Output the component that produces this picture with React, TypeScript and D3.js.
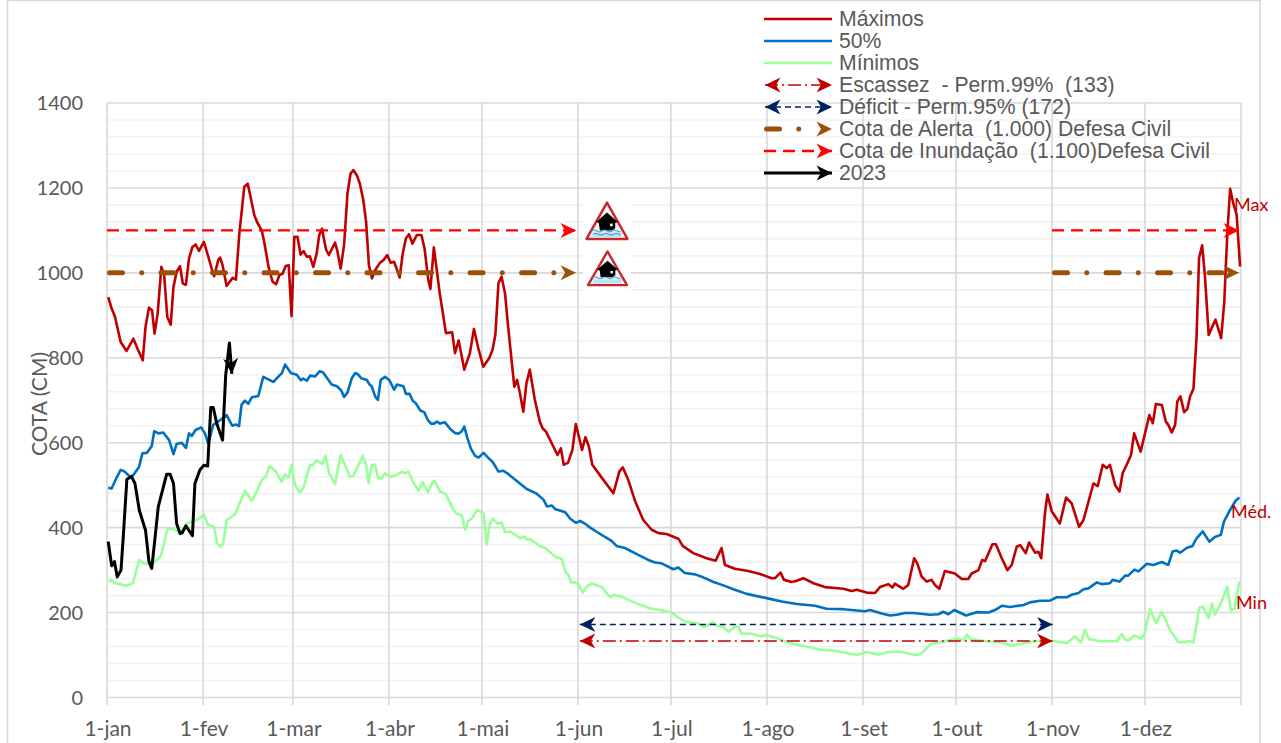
import React from "react";
import * as d3 from "d3";

type P = [number, number];

const monthLabels = ["1-jan","1-fev","1-mar","1-abr","1-mai","1-jun","1-jul","1-ago","1-set","1-out","1-nov","1-dez"];
const monthDays = [0,31,60,91,121,152,182,213,244,274,305,335];
const lastDay = 366;
const yTicks = [0,200,400,600,800,1000,1200,1400];
const yMinor = [40,80,120,160,240,280,320,360,440,480,520,560,640,680,720,760,840,880,920,960,1040,1080,1120,1160,1240,1280,1320,1360];

const maximos: P[] = [[0.4,943],[1.5,916],[2.6,896],[4.4,837],[6.3,816],[8.5,845],[9.8,822],[11.5,794],[12.4,873],[13.5,918],[14.5,912],[15.3,857],[16.3,904],[17.5,1014],[18.4,995],[19.4,896],[20.5,878],[21.4,967],[22.4,1002],[23.5,1016],[24.4,975],[25.4,972],[26.4,1034],[27.5,1061],[28.5,1067],[29.6,1052],[31.2,1073],[32.6,1038],[34,1002],[34.5,992],[35.8,1030],[36.4,1036],[37.2,1018],[38.5,969],[40.4,988],[41.5,984],[42.6,1093],[44.2,1203],[45.3,1210],[46.2,1179],[47.4,1136],[48.4,1118],[49.8,1100],[50.5,1077],[52,1014],[53.3,979],[54.4,973],[55.5,995],[56.5,998],[57.5,1016],[58.5,1018],[59.4,898],[60.3,1085],[61.3,1085],[62.3,1043],[63.3,1051],[64.3,1038],[65.3,1039],[66.4,1014],[67.5,1046],[68.3,1089],[69.2,1104],[70.5,1055],[71.4,1042],[73.4,1071],[74.1,1053],[75.2,1010],[76.3,1065],[77.4,1187],[78.4,1234],[79.3,1242],[80.4,1230],[81.4,1210],[82.5,1171],[83.4,1120],[84.3,1018],[85.3,987],[86.3,1006],[87.9,1024],[89,1030],[90.2,1042],[91.3,1024],[92.4,1026],[93.2,1010],[94.2,989],[95.2,1046],[96.2,1081],[97.2,1091],[98.3,1069],[99.7,1089],[101.2,1089],[102.2,1058],[103.4,984],[104.1,962],[105.2,1060],[107.1,952],[109.1,858],[111.1,860],[112,811],[113.2,841],[115,772],[116.8,811],[118.1,868],[119.5,823],[121.1,779],[123,799],[124.1,819],[125,854],[126,976],[127,991],[128.1,952],[129.1,874],[131.1,732],[132,748],[132.9,717],[134,673],[135,740],[136.1,772],[137.7,701],[139.3,650],[140.2,634],[141.3,626],[145,571],[146.1,587],[147,548],[148.4,553],[149.8,583],[150.9,644],[152.9,583],[154,613],[155.1,591],[156.2,548],[159.4,516],[163,481],[164.9,532],[166,542],[167.8,512],[170,462],[172.6,418],[175.3,395],[177.5,387],[180.1,385],[183.9,374],[185.3,357],[188.7,340],[193,328],[195.9,322],[197.8,352],[198.9,312],[202.1,303],[206.4,298],[210.2,291],[213.9,281],[215,281],[216.8,294],[217.9,277],[220.4,272],[222,275],[224.1,281],[227.4,269],[231.1,260],[237,256],[239.7,251],[241.3,254],[244.5,247],[247.2,246],[248.8,260],[251.5,267],[252.8,259],[253.6,268],[256.3,256],[257.9,265],[259.8,328],[260.8,316],[262.2,285],[263.8,273],[265.4,277],[266.5,265],[267.9,256],[269.7,298],[272.9,292],[275.1,279],[277.2,279],[278.3,292],[280.5,300],[281.7,324],[282.6,321],[285,361],[286.1,361],[288,328],[289.8,300],[291.2,312],[292.8,355],[293.9,359],[295.7,340],[296.8,365],[298.7,341],[299.8,343],[300.7,328],[301.9,434],[302.7,478],[304.1,438],[306.7,410],[308.7,471],[310.5,457],[312.9,402],[314.3,418],[317.5,504],[318.9,498],[320.5,548],[321.8,540],[322.8,548],[324.5,500],[325.9,485],[326.9,528],[328.2,548],[329.6,571],[330.6,622],[332.7,579],[335.5,665],[336.6,646],[337.6,691],[339.5,689],[340.8,650],[341.6,642],[342.7,624],[343.8,642],[344.5,697],[345.5,709],[346.7,672],[347.7,679],[348.6,709],[349.7,727],[350.7,850],[351.5,1035],[352.5,1065],[353.4,992],[354.6,854],[356.8,890],[358.6,846],[359.6,929],[360.6,1094],[361.5,1198],[362.5,1164],[363.6,1137],[364.7,1015]];

const mediana: P[] = [[0.4,494],[1.5,492],[3.1,518],[4.4,536],[5.5,533],[7.4,520],[8.5,524],[10.3,543],[11.4,575],[12.8,576],[14.4,592],[15.2,627],[16.5,622],[18.1,624],[20,606],[21.4,573],[22.4,597],[24,600],[25.4,588],[26.4,622],[27.3,616],[28.5,630],[30.3,636],[31.5,622],[32.6,598],[34.2,642],[36.4,653],[38.5,665],[40.3,640],[41.4,643],[42.5,639],[43.3,689],[44.4,699],[45.5,692],[46.6,707],[48.7,710],[50.3,755],[51.9,749],[53.6,743],[55.2,756],[56.3,764],[57.3,784],[59.2,764],[61.1,760],[62.4,747],[63.2,751],[64.3,746],[65.4,758],[67,756],[68.4,768],[69.5,766],[72.3,737],[74,733],[75.4,723],[76.3,708],[77.4,718],[78.8,752],[79.9,764],[80.6,762],[82,751],[83.6,748],[84.5,737],[85.2,733],[86.3,709],[87.2,701],[88.1,748],[89.5,755],[90.9,747],[92.4,725],[93.3,737],[95.4,733],[96.2,715],[97.4,715],[98.4,699],[99.4,693],[100.8,676],[102.1,672],[103.3,653],[104.3,645],[105.3,645],[106.2,650],[107.2,645],[108.8,648],[110.4,633],[112,623],[113.1,621],[114.2,627],[115,638],[116,611],[117.2,585],[118.5,569],[119.6,565],[121.2,576],[122.5,566],[124.2,554],[126,532],[127.6,534],[129.2,526],[132.4,507],[135.1,491],[138.3,480],[140.5,466],[141.6,450],[143.2,452],[144.2,444],[147.5,436],[149.1,421],[151,411],[152.3,416],[153.9,409],[155.5,400],[160.3,378],[162.4,369],[164,357],[166.7,352],[171,336],[174.2,324],[176.4,318],[178.5,316],[182.3,302],[183.9,306],[186,293],[189.3,290],[191.9,283],[195.2,272],[198.4,264],[201.6,255],[205.9,244],[212.3,234],[217.2,226],[222,220],[227.9,216],[231.6,209],[237,208],[244,203],[245.6,206],[249.4,198],[252,193],[254.2,195],[256.9,199],[259.5,199],[264.9,195],[267.6,196],[269.2,202],[270.8,196],[272.7,206],[276.5,193],[279.9,201],[283.7,200],[285.8,206],[288,216],[290.7,213],[295,218],[297.1,224],[300.3,228],[303.5,228],[305.7,236],[308.9,236],[310.5,242],[312.7,246],[314.3,255],[315.9,257],[318.6,271],[320.2,267],[322.8,269],[323.7,277],[325.9,273],[327.7,287],[328.7,287],[330.7,301],[332,297],[334.7,315],[336.8,312],[339.5,319],[341.6,312],[343,344],[344.3,346],[345.4,341],[347.5,352],[349.4,357],[350.7,375],[352.7,391],[354.8,367],[356.6,378],[358.5,383],[359.5,414],[361.5,442],[363.3,464],[364.5,471]];

const minimos: P[] = [[0.4,272],[1.5,277],[2.6,269],[4.2,267],[6.1,263],[8.3,269],[10.4,324],[11.7,316],[14.4,314],[17.3,332],[19.5,398],[21.4,397],[23.5,389],[25.6,410],[28.9,418],[31.2,430],[32.6,406],[34.4,402],[35.5,362],[36.6,355],[37.4,363],[38.5,418],[41.2,431],[44.4,487],[46.6,463],[48.2,485],[49.8,512],[51.2,521],[52.3,545],[54.4,532],[56.2,508],[57.3,526],[58.4,518],[59.4,548],[60.5,500],[62.1,483],[63.2,493],[65.3,548],[66.2,546],[67.3,559],[69.3,550],[70.4,569],[71.5,528],[73.4,503],[75.2,571],[78.2,520],[79.3,522],[82.3,569],[83.4,548],[84.2,506],[85.2,548],[86.3,548],[87.3,516],[88.4,516],[89.5,528],[91.1,519],[93.2,524],[94.9,532],[95.9,528],[97,532],[98.4,509],[100.3,487],[101.5,507],[103.3,483],[104.5,503],[105.4,511],[107.2,485],[109,479],[111.5,442],[112.6,433],[114.2,429],[115.3,395],[116.3,415],[117.7,424],[119,442],[121.2,434],[122.2,361],[123.3,411],[124.2,421],[125.8,409],[127.1,412],[128.1,389],[129.8,391],[133,375],[134.3,379],[135.1,372],[136.2,373],[139.4,356],[141,352],[144.2,332],[146.4,326],[147.5,297],[148.5,289],[149.4,271],[150.7,271],[151.8,266],[153.1,247],[154.4,261],[156,268],[159.2,261],[160.3,250],[162.1,236],[163,242],[165.6,238],[167.8,230],[171,220],[174.8,210],[178,206],[181.7,200],[183.9,188],[186,179],[189.8,175],[192.3,166],[195,177],[196.2,169],[198.4,167],[200,155],[202.1,167],[203.2,167],[204.1,151],[207.5,150],[210.2,144],[212.3,147],[215.5,140],[219.8,128],[224.1,122],[230,112],[234.3,110],[240.2,102],[241.8,101],[244.5,107],[248.3,101],[251.5,107],[255.8,107],[259,102],[261.1,100],[262.8,108],[265.1,126],[268.1,130],[273.5,138],[275.9,136],[276.7,148],[278,138],[281,134],[287.4,130],[291.2,122],[295,128],[299.2,133],[304.6,133],[308.9,128],[311.6,144],[313.5,130],[314.8,159],[316.1,137],[319.6,133],[322.3,133],[325,132],[326.6,149],[327.9,136],[328.7,134],[330.7,146],[332.8,139],[333.9,148],[335.7,208],[337.7,175],[339.5,201],[342.2,159],[344.8,130],[347,131],[348.4,133],[349.7,130],[351.6,212],[352.7,214],[354.6,187],[355.6,221],[356.6,195],[358.5,221],[360.6,261],[361.7,206],[362.9,209],[364.5,273]];

const ano2023: P[] = [[0.4,367],[1.5,310],[2.4,320],[3.3,284],[4.5,300],[5.3,386],[6.4,514],[7.9,520],[9,504],[10.4,441],[12.4,394],[13.5,320],[14.4,304],[15.5,379],[16.5,449],[19.2,526],[20.3,526],[21.4,504],[22.4,410],[23.5,386],[24.2,388],[25.4,404],[27.5,381],[28.3,504],[29.9,536],[31.2,547],[32.4,545],[33.4,683],[34.2,683],[35.3,646],[37.2,606],[38.2,759],[39.4,835],[40.2,762]];

const escassez = 133;
const deficit = 172;
const alerta = 1000;
const inundacao = 1100;
const spanLow: P = [152.6, 305.2];
const spansHigh: P[] = [[0, 151.4], [305, 365.4]];

const legendLabels = ["Máximos","50%","Mínimos","Escassez  - Perm.99%  (133)","Déficit - Perm.95% (172)","Cota de Alerta  (1.000) Defesa Civil","Cota de Inundação  (1.100)Defesa Civil","2023"];
const endLabels: [string, number, number][] = [["Max", 1234, 1160], ["Méd.", 1231, 437], ["Min", 1236, 222]];

const C = { max: "#C00000", med: "#0070C0", min: "#99FF99", esc: "#C00000", def: "#002060", ale: "#9C5009", inu: "#FF0000", blk: "#000000", major: "#D9D9D9", minor: "#F2F2F2", text: "#595959" };

const x = d3.scaleLinear().domain([0, lastDay]).range([107, 1241]);
const xSeries = d3.scaleLinear().domain([0, 365]).range([107, 1241]);
const y = d3.scaleLinear().domain([0, 1400]).range([697.5, 103]);
const line = d3.line<P>().x(d => xSeries(d[0])).y(d => y(d[1]));
const refLine = d3.line<P>().x(d => x(d[0])).y(d => y(d[1]));

const arrow = "M0,-7.5 L15.5,0 L0,7.5 L4.5,0 Z";
function Marker({ id, color, refX = 15.5 }: { id: string; color: string; refX?: number }) {
  return (
    <marker id={id} markerUnits="userSpaceOnUse" markerWidth="20" markerHeight="18" viewBox="-2 -9 20 18" refX={refX} refY="0" orient="auto-start-reverse">
      <path d={arrow} fill={color} />
    </marker>
  );
}

const BRN = "13 19.25 0.01 19.25";
const RED = "12 7";
const NAV = "6 4";
const DD = "13 4 2 4";
const brownInset = 7;

function Icon({ cx, top, w, h, waves }: { cx: number; top: number; w: number; h: number; waves: number }) {
  const sx = w / 42, sy = h / 38;
  return (
    <g transform={`translate(${cx},${top}) scale(${sx},${sy})`}>
      <path d="M0,1.5 L20,36 L-20,36 Z" fill="#F4F6F8" stroke="#C9252D" strokeWidth={2.4} strokeLinejoin="round" />
      <path d="M0,11 L10.5,20 L8,21 L8,26 L5,28 L-7,28 L-8,21 L-10.5,20 Z" fill="#000" />
      <rect x={3} y={21.5} width={2.5} height={2.5} fill="#fff" />
      <rect x={-14.5} y={30} width={29} height={4.5} fill="#BFE3F2" />
      {d3.range(waves).map(i => (
        <path key={i} d={`M${-15 + i * 1.5},${28.5 + i * 3} q2.5,-1.6 5,0 t5,0 t5,0 t5,0 t5,0 t${3 - i * 3},0`} fill="none" stroke="#4BA8D3" strokeWidth={1.2} />
      ))}
    </g>
  );
}

export default function App() {
  const ly = (i: number) => 19 + i * 22;
  const lx0 = 764, lx1 = 832;
  return (
    <svg width={1281} height={743} viewBox="0 0 1281 743" style={{ position: "absolute", left: 0, top: 0, display: "block", background: "#fff" }}>
      <defs>
        <Marker id="mEsc" color={C.esc} />
        <Marker id="mDef" color={C.def} />
        <Marker id="mAle" color={C.ale} refX={15.5 - brownInset} />
        <Marker id="mInu" color={C.inu} />
        <Marker id="mBlk" color={C.blk} />
      </defs>

      <path d="M7.5,743 V0.5 H1260 V743" fill="none" stroke={C.major} strokeWidth={1.6} />

      {yMinor.map(v => <line key={v} x1={x(0)} x2={x(lastDay)} y1={y(v)} y2={y(v)} stroke={C.minor} strokeWidth={1.6} />)}
      {yTicks.map(v => <line key={v} x1={x(0)} x2={x(lastDay)} y1={y(v)} y2={y(v)} stroke={C.major} strokeWidth={1.6} />)}
      {[...monthDays, lastDay].map(d => <line key={d} x1={x(d)} x2={x(d)} y1={y(1400)} y2={705} stroke={C.major} strokeWidth={1.6} />)}

      {yTicks.map(v => (
        <text key={v} x={83} y={y(v) + 7} textAnchor="end" fontFamily="Lato" fontSize={20} fill={C.text}>{v}</text>
      ))}
      {monthLabels.map((m, i) => (
        <text key={m} x={x(monthDays[i]) + 1} y={736} textAnchor="middle" fontFamily="Lato" fontSize={21} fill={C.text}>{m}</text>
      ))}
      <text transform="translate(47,404) rotate(-90)" textAnchor="middle" fontFamily="Lato" fontSize={21} fill={C.text}>COTA (CM)</text>

      <rect x={583} y={197} width={48} height={94} fill="#fff" />
      <Icon cx={607} top={201} w={43} h={40} waves={2} />
      <Icon cx={607.5} top={250} w={41} h={37} waves={1} />

      <path d={line(maximos)!} fill="none" stroke={C.max} strokeWidth={2.6} strokeLinejoin="round" />
      <path d={line(mediana)!} fill="none" stroke={C.med} strokeWidth={2.6} strokeLinejoin="round" />
      <path d={line(minimos)!} fill="none" stroke={C.min} strokeWidth={2.6} strokeLinejoin="round" />

      <path d={refLine([[spanLow[0], escassez], [spanLow[1], escassez]])!} fill="none" stroke={C.esc} strokeWidth={1.5} strokeDasharray={DD} markerStart="url(#mEsc)" markerEnd="url(#mEsc)" />
      <path d={refLine([[spanLow[0], deficit], [spanLow[1], deficit]])!} fill="none" stroke={C.def} strokeWidth={1.4} strokeDasharray={NAV} markerStart="url(#mDef)" markerEnd="url(#mDef)" />

      {spansHigh.map((s, i) => (
        <path key={i} d={`M${x(s[0])},${y(alerta)} H${x(s[1]) - brownInset}`} fill="none" stroke={C.ale} strokeWidth={5} strokeLinecap="round" strokeDasharray={BRN} strokeDashoffset={-2.5} markerEnd="url(#mAle)" />
      ))}
      {spansHigh.map((s, i) => (
        <path key={i} d={refLine([[s[0], inundacao], [s[1], inundacao]])!} fill="none" stroke={C.inu} strokeWidth={2.4} strokeDasharray={RED} markerEnd="url(#mInu)" />
      ))}

      <path d={line(ano2023)!} fill="none" stroke={C.blk} strokeWidth={3} strokeLinejoin="round" markerEnd="url(#mBlk)" />

      {endLabels.map(([t, px, v]) => (
        <text key={t} x={px} y={y(v) + 6} fontFamily="Lato" fontSize={18} fill={C.max}>{t}</text>
      ))}

      <line x1={lx0} x2={lx1} y1={ly(0)} y2={ly(0)} stroke={C.max} strokeWidth={2.6} />
      <line x1={lx0} x2={lx1} y1={ly(1)} y2={ly(1)} stroke={C.med} strokeWidth={2.6} />
      <line x1={lx0} x2={lx1} y1={ly(2)} y2={ly(2)} stroke={C.min} strokeWidth={2.6} />
      <path d={`M${lx0 + 1},${ly(3)} H${lx1}`} stroke={C.esc} strokeWidth={1.5} strokeDasharray={DD} markerStart="url(#mEsc)" markerEnd="url(#mEsc)" fill="none" />
      <path d={`M${lx0 + 1},${ly(4)} H${lx1}`} stroke={C.def} strokeWidth={1.4} strokeDasharray={NAV} markerStart="url(#mDef)" markerEnd="url(#mDef)" fill="none" />
      <path d={`M${lx0},${ly(5)} H${lx1 - 17}`} stroke={C.ale} strokeWidth={5} strokeLinecap="round" strokeDasharray={BRN} strokeDashoffset={-2.5} fill="none" />
      <g transform={`translate(${lx1 - 15.5},${ly(5)})`}><path d={arrow} fill={C.ale} /></g>
      <path d={`M${lx0},${ly(6)} H${lx1}`} stroke={C.inu} strokeWidth={2.4} strokeDasharray={RED} markerEnd="url(#mInu)" fill="none" />
      <path d={`M${lx0},${ly(7)} H${lx1}`} stroke={C.blk} strokeWidth={3} markerEnd="url(#mBlk)" fill="none" />
      {legendLabels.map((t, i) => (
        <text key={t} x={839} y={ly(i) + 7} fontFamily="Liberation Sans" fontSize={21.2} fill={C.text} style={{ whiteSpace: "pre" }}>{t}</text>
      ))}
    </svg>
  );
}
